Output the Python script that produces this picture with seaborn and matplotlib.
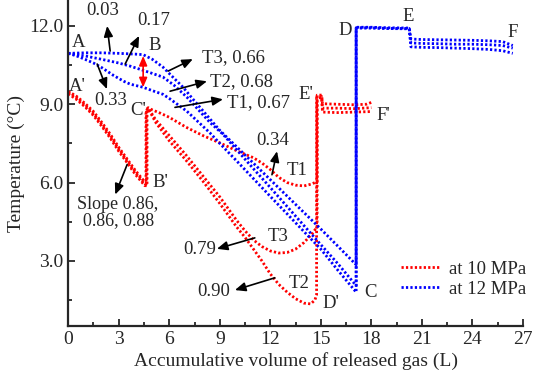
import matplotlib
matplotlib.use("Agg")
import matplotlib.pyplot as plt
from matplotlib.lines import Line2D
import seaborn as sns
import pandas as pd

# red = 10 MPa, blue = 12 MPa (three runs T1, T2, T3 each)
red_t1_x = [0, 0.5, 1.0, 1.5, 2.0, 2.5, 3.0, 3.5, 4.0, 4.55, 4.65, 4.65, 4.75, 5.0, 5.5, 6.0, 7.0, 8.0,
            9.0, 10.0, 11.0, 11.5, 12.0, 12.5, 13.0, 13.5, 14.0, 14.5, 14.78, 14.78, 15.05, 15.1, 16.0,
            17.0, 17.7, 18.05]
red_t1_y = [9.5, 9.3, 9.03, 8.72, 8.3, 7.85, 7.35, 6.9, 6.45, 6.02, 6.0, 8.8, 8.87, 8.78, 8.65, 8.5, 8.12, 7.8,
            7.52, 7.22, 6.95, 6.75, 6.5, 6.2, 6.0, 5.9, 5.87, 5.95, 6.05, 9.35, 9.35, 9.02, 9.0,
            8.98, 9.0, 9.08]
red_t3_x = [0, 0.5, 1.0, 1.5, 2.0, 2.5, 3.0, 3.5, 4.0, 4.55, 4.62, 4.62, 4.75, 5.2, 6.0, 7.0, 8.0, 9.0,
            10.0, 10.5, 11.0, 11.5, 12.0, 12.5, 13.0, 13.5, 14.0, 14.5, 14.78, 14.78, 15.05, 15.1, 16.0,
            17.0, 18.0]
red_t3_y = [9.45, 9.24, 8.96, 8.64, 8.22, 7.77, 7.28, 6.83, 6.38, 5.95, 5.93, 8.75, 8.85, 8.4, 7.8, 7.05, 6.25, 5.45,
            4.55, 4.15, 3.8, 3.55, 3.38, 3.3, 3.32, 3.45, 3.7, 4.05, 4.3, 9.3, 9.3, 8.85, 8.85,
            8.83, 8.87]
red_t2_x = [0, 0.5, 1.0, 1.5, 2.0, 2.5, 3.0, 3.5, 4.0, 4.55, 4.68, 4.68, 4.78, 5.2, 6.0, 7.0, 8.0, 9.0,
            10.0, 10.5, 11.0, 11.5, 12.0, 12.5, 13.0, 13.5, 14.0, 14.4, 14.65, 14.75, 14.75, 15.05, 15.1,
            16.0, 17.0, 18.0]
red_t2_y = [9.4, 9.18, 8.9, 8.57, 8.15, 7.7, 7.2, 6.76, 6.3, 5.88, 5.88, 8.7, 8.8, 8.3, 7.6, 6.85, 6.05, 5.2,
            4.3, 3.9, 3.45, 3.0, 2.5, 2.1, 1.8, 1.55, 1.38, 1.35, 1.5, 1.7, 9.25, 9.25, 8.7,
            8.68, 8.7, 8.72]

blue_t3_x = [0, 1, 2, 3, 4, 4.45, 5.0, 5.63, 6.2, 6.82, 7.4, 8.0, 9.0, 10, 11, 12, 13, 14, 15, 16, 17.1,
             17.1, 18, 19, 20.25, 20.35, 21, 22, 23, 24, 25, 25.8, 26.4]
blue_t3_y = [10.95, 10.97, 10.97, 10.95, 10.92, 10.9, 10.72, 10.42, 10.05, 9.65, 9.2, 8.75, 8.0, 7.37, 6.74,
             6.11, 5.48, 4.85, 4.22, 3.57, 2.85, 11.95, 11.95, 11.93, 11.92, 11.5, 11.48, 11.47, 11.46,
             11.45, 11.43, 11.4, 11.25]
blue_t2_x = [0, 1, 2, 3, 3.68, 4.45, 5.0, 5.63, 6.3, 7.05, 8.42, 9.19, 10, 11, 12, 13, 14, 15, 16, 17.1,
             17.1, 18, 19, 20.25, 20.35, 21, 22, 23, 24, 25, 25.8, 26.4]
blue_t2_y = [10.95, 10.85, 10.72, 10.58, 10.46, 10.3, 10.18, 10.04, 9.72, 9.27, 8.3, 7.85, 7.26, 6.53, 5.81,
             5.08, 4.35, 3.62, 2.9, 2.05, 11.93, 11.93, 11.91, 11.9, 11.35, 11.33, 11.32, 11.3, 11.3,
             11.28, 11.25, 11.15]
blue_t1_x = [0, 0.5, 1.0, 1.5, 2.0, 2.7, 3.3, 3.68, 4.45, 5.0, 5.63, 6.05, 7.05, 8.42, 9, 10, 11, 12, 13,
             14, 15, 16, 17.1, 17.1, 18, 19, 20.25, 20.35, 21, 22, 23, 24, 25, 25.8, 26.4]
blue_t1_y = [10.95, 10.85, 10.72, 10.58, 10.4, 10.1, 9.88, 9.77, 9.65, 9.52, 9.38, 9.2, 8.73, 7.9, 7.5, 6.83,
             6.15, 5.47, 4.8, 4.12, 3.45, 2.65, 1.8, 11.92, 11.92, 11.9, 11.89, 11.2, 11.18, 11.17,
             11.15, 11.13, 11.1, 11.05, 10.95]

series_names = ["at 10 MPa", "at 12 MPa"]
series_colors = ["red", "blue"]

curves = [
    ("R-T1", series_names[0], red_t1_x, red_t1_y),
    ("R-T3", series_names[0], red_t3_x, red_t3_y),
    ("R-T2", series_names[0], red_t2_x, red_t2_y),
    ("B-T3", series_names[1], blue_t3_x, blue_t3_y),
    ("B-T2", series_names[1], blue_t2_x, blue_t2_y),
    ("B-T1", series_names[1], blue_t1_x, blue_t1_y),
]
df = pd.concat(
    [pd.DataFrame({"x": cx, "y": cy, "curve": name, "series": s}) for name, s, cx, cy in curves],
    ignore_index=True,
)

sns.set_style("ticks")
plt.rcParams["font.family"] = ["Liberation Serif", "DejaVu Serif"]

fig = plt.figure(figsize=(5.33, 3.85), dpi=100)
ax = fig.add_axes([0.128, 0.153, 0.853, 0.844])

dot = (0, (0.8, 0.8))
sns.lineplot(data=df, x="x", y="y", hue="series", units="curve", estimator=None, sort=False,
             palette=dict(zip(series_names, series_colors)), legend=False, lw=2.0, linestyle=dot, ax=ax)

ax.set_xlim(0, 27)
ax.set_ylim(0.5, 12.95)
ax.set_xticks(range(0, 28, 3))
ax.set_xticks([x + 1.5 for x in range(0, 27, 3)], minor=True)
ax.set_yticks([3, 6, 9, 12])
ax.set_yticklabels(["3.0", "6.0", "9.0", "12.0"])
ax.set_yticks([1.5, 4.5, 7.5, 10.5], minor=True)
ax.tick_params(which="major", direction="in", length=5, width=1.3, labelsize=14)
ax.tick_params(which="minor", direction="in", length=3, width=1.3)
for side in ["top", "right"]:
    ax.spines[side].set_visible(False)
for side in ["left", "bottom"]:
    ax.spines[side].set_linewidth(1.6)
ax.set_xlabel("Accumulative volume of released gas (L)", fontsize=14, labelpad=3)
ax.set_ylabel("Temperature (°C)", fontsize=14, labelpad=3)

fs = 13.5
# point labels
labels = [
    ("A", 0.62, 11.38), ("B", 5.16, 11.27), ("A'", 0.53, 9.67), ("C'", 4.15, 8.77),
    ("B'", 5.5, 6.02), ("D'", 15.6, 1.38), ("C", 17.96, 1.8), ("D", 16.42, 11.83),
    ("E", 20.2, 12.37), ("F", 26.38, 11.73), ("E'", 14.1, 9.38), ("F'", 18.73, 8.56),
    ("T1", 13.6, 6.46), ("T3", 12.45, 3.94), ("T2", 13.7, 2.13),
    ("0.03", 2.07, 12.58), ("0.17", 5.1, 12.21), ("0.33", 2.55, 9.15), ("0.34", 12.15, 7.6),
    ("0.79", 7.8, 3.42), ("0.90", 8.65, 1.83),
]
for txt, tx, ty in labels:
    ax.text(tx, ty, txt, ha="center", va="center", fontsize=fs)
ax.text(7.95, 10.8, "T3, 0.66", ha="left", va="center", fontsize=fs)
ax.text(8.4, 9.87, "T2, 0.68", ha="left", va="center", fontsize=fs)
ax.text(9.42, 9.06, "T1, 0.67", ha="left", va="center", fontsize=fs)
ax.text(2.96, 4.85, "Slope 0.86,\n0.86, 0.88", ha="center", va="center", fontsize=13, linespacing=0.95)

arrow = dict(arrowstyle="-|>,head_length=0.7,head_width=0.3", color="black", lw=1.2,
             mutation_scale=9, shrinkA=0, shrinkB=0)
arrows = [
    ((2.49, 11.04), (2.31, 12.0)),
    ((3.38, 10.54), (4.21, 11.62)),
    ((1.72, 10.54), (2.3, 9.58)),
    ((5.93, 10.27), (7.4, 10.73)),
    ((6.05, 9.5), (8.24, 9.88)),
    ((6.34, 8.88), (9.19, 9.19)),
    ((12.1, 6.3), (12.4, 7.2)),
    ((3.5, 6.69), (2.79, 5.54)),
    ((11.08, 3.88), (8.83, 3.46)),
    ((12.27, 2.35), (9.9, 1.88)),
]
for tail, head in arrows:
    ax.annotate("", xy=head, xytext=tail, arrowprops=arrow)

ax.annotate("", xy=(4.45, 9.65), xytext=(4.45, 10.85),
            arrowprops=dict(arrowstyle="<|-|>,head_length=0.7,head_width=0.3", color="red", lw=1.2,
                            mutation_scale=8, shrinkA=0, shrinkB=0))

handles = [Line2D([], [], color=c, lw=2.0, linestyle=dot) for c in series_colors]
ax.legend(handles, series_names, loc="lower right", bbox_to_anchor=(1.045, 0.035), frameon=False,
          fontsize=13.5, handlelength=2.1, handletextpad=0.45, labelspacing=0.15)

fig.savefig("out.png", dpi=100)
